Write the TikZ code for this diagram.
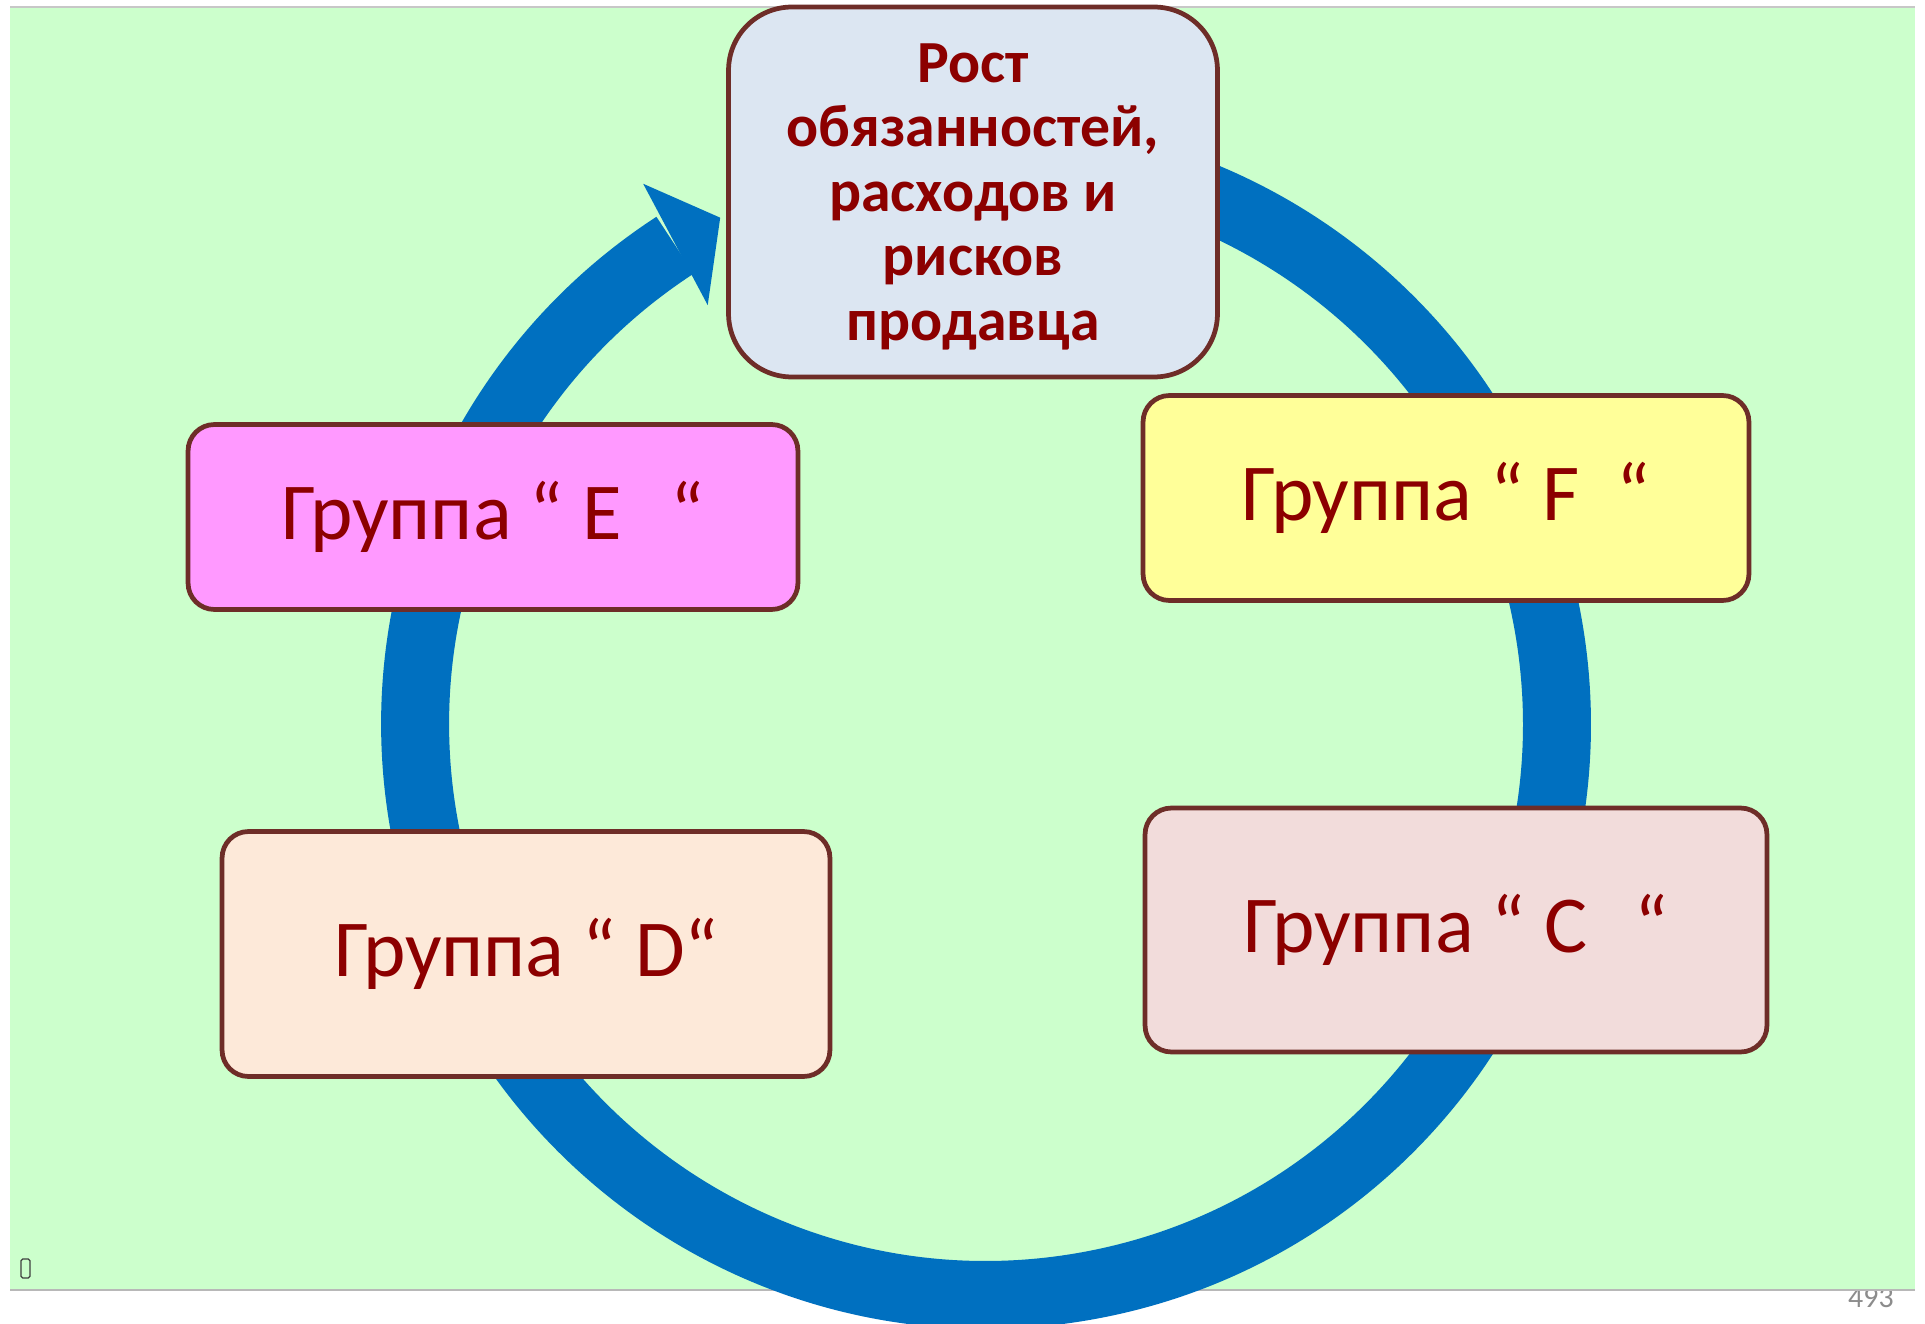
\documentclass[tikz,border=0pt]{standalone}
\usepackage{fontspec}
\setmainfont{Carlito}
\usetikzlibrary{calc}
\definecolor{bggreen}{HTML}{CCFFCC}
\definecolor{ringblue}{HTML}{0070C0}
\definecolor{boxborder}{RGB}{110,45,40}
\definecolor{txtred}{RGB}{140,0,0}
\definecolor{topfill}{HTML}{DCE6F2}
\definecolor{efill}{HTML}{FF99FF}
\definecolor{ffill}{HTML}{FFFF99}
\definecolor{dfill}{HTML}{FDE9D9}
\definecolor{cfill}{HTML}{F2DCDB}
\begin{document}
\begin{tikzpicture}[x=0.02cm,y=-0.02cm]
\tikzset{
  grpbox/.style={draw=boxborder, line width=2.7pt, rounded corners=15pt,
    text=txtred, font=\fontsize{46}{54}\selectfont, inner sep=0pt},
  topbox/.style={draw=boxborder, line width=2.7pt, rounded corners=36pt,
    inner sep=0pt, fill=topfill},
  toptext/.style={text=txtred, font=\bfseries\fontsize{34}{36.7}\selectfont,
    inner sep=0pt, align=center},
  ring/.style={ringblue, line width=1.36cm}
}
\useasboundingbox (0,0) rectangle (1925,1324);
\fill[white] (0,0) rectangle (1925,1324);
% page number (partly hidden by the slide)
\node[anchor=base east, text=black!45, font=\fontsize{17}{20}\selectfont, inner sep=0pt] (pnum) at (1894,1307) {493};
% slide background
\fill[bggreen] (10,7) rectangle (1915,1290);
\draw[black!22, line width=1.2pt] (10,7) -- (1915,7);
\draw[black!28, line width=0.8pt] (10,1290) -- (1915,1290);
% missing glyph box
\draw[black!75, line width=0.7pt, rounded corners=1pt] (21,1259) rectangle (30,1278);
% ring arrow
\coordinate (cen) at (986,724);
\draw[ring] (cen) ++(100:11.42cm) arc[start angle=100, end angle=-237, radius=11.42cm];
\fill[ringblue] ($(cen)+(122.4:12.8cm)$) -- ($(cen)+(117.7:11.44cm)$) -- ($(cen)+(123.6:10.06cm)$) -- cycle;
% boxes
\node[topbox, minimum width=9.78cm, minimum height=7.4cm] (top) at (973,192) {};
\node[toptext] (toptxt) at (973,196.5)
  {Рост\\обязанностей,\\расходов и\\рисков\\продавца};
\node[grpbox, fill=efill, minimum width=12.2cm, minimum height=3.7cm] (E) at (493,517) {Группа “ E~~\hspace{0.16em}“};
\node[grpbox, fill=ffill, minimum width=12.12cm, minimum height=4.1cm] (F) at (1446,498) {Группа “ F~~“};
\node[grpbox, fill=dfill, minimum width=12.16cm, minimum height=4.9cm] (D) at (526,954) {Группа “ D“};
\node[grpbox, fill=cfill, minimum width=12.44cm, minimum height=4.88cm] (C) at (1456,930) {Группа “ C~~\hspace{0.14em}“};
\end{tikzpicture}
\end{document}
